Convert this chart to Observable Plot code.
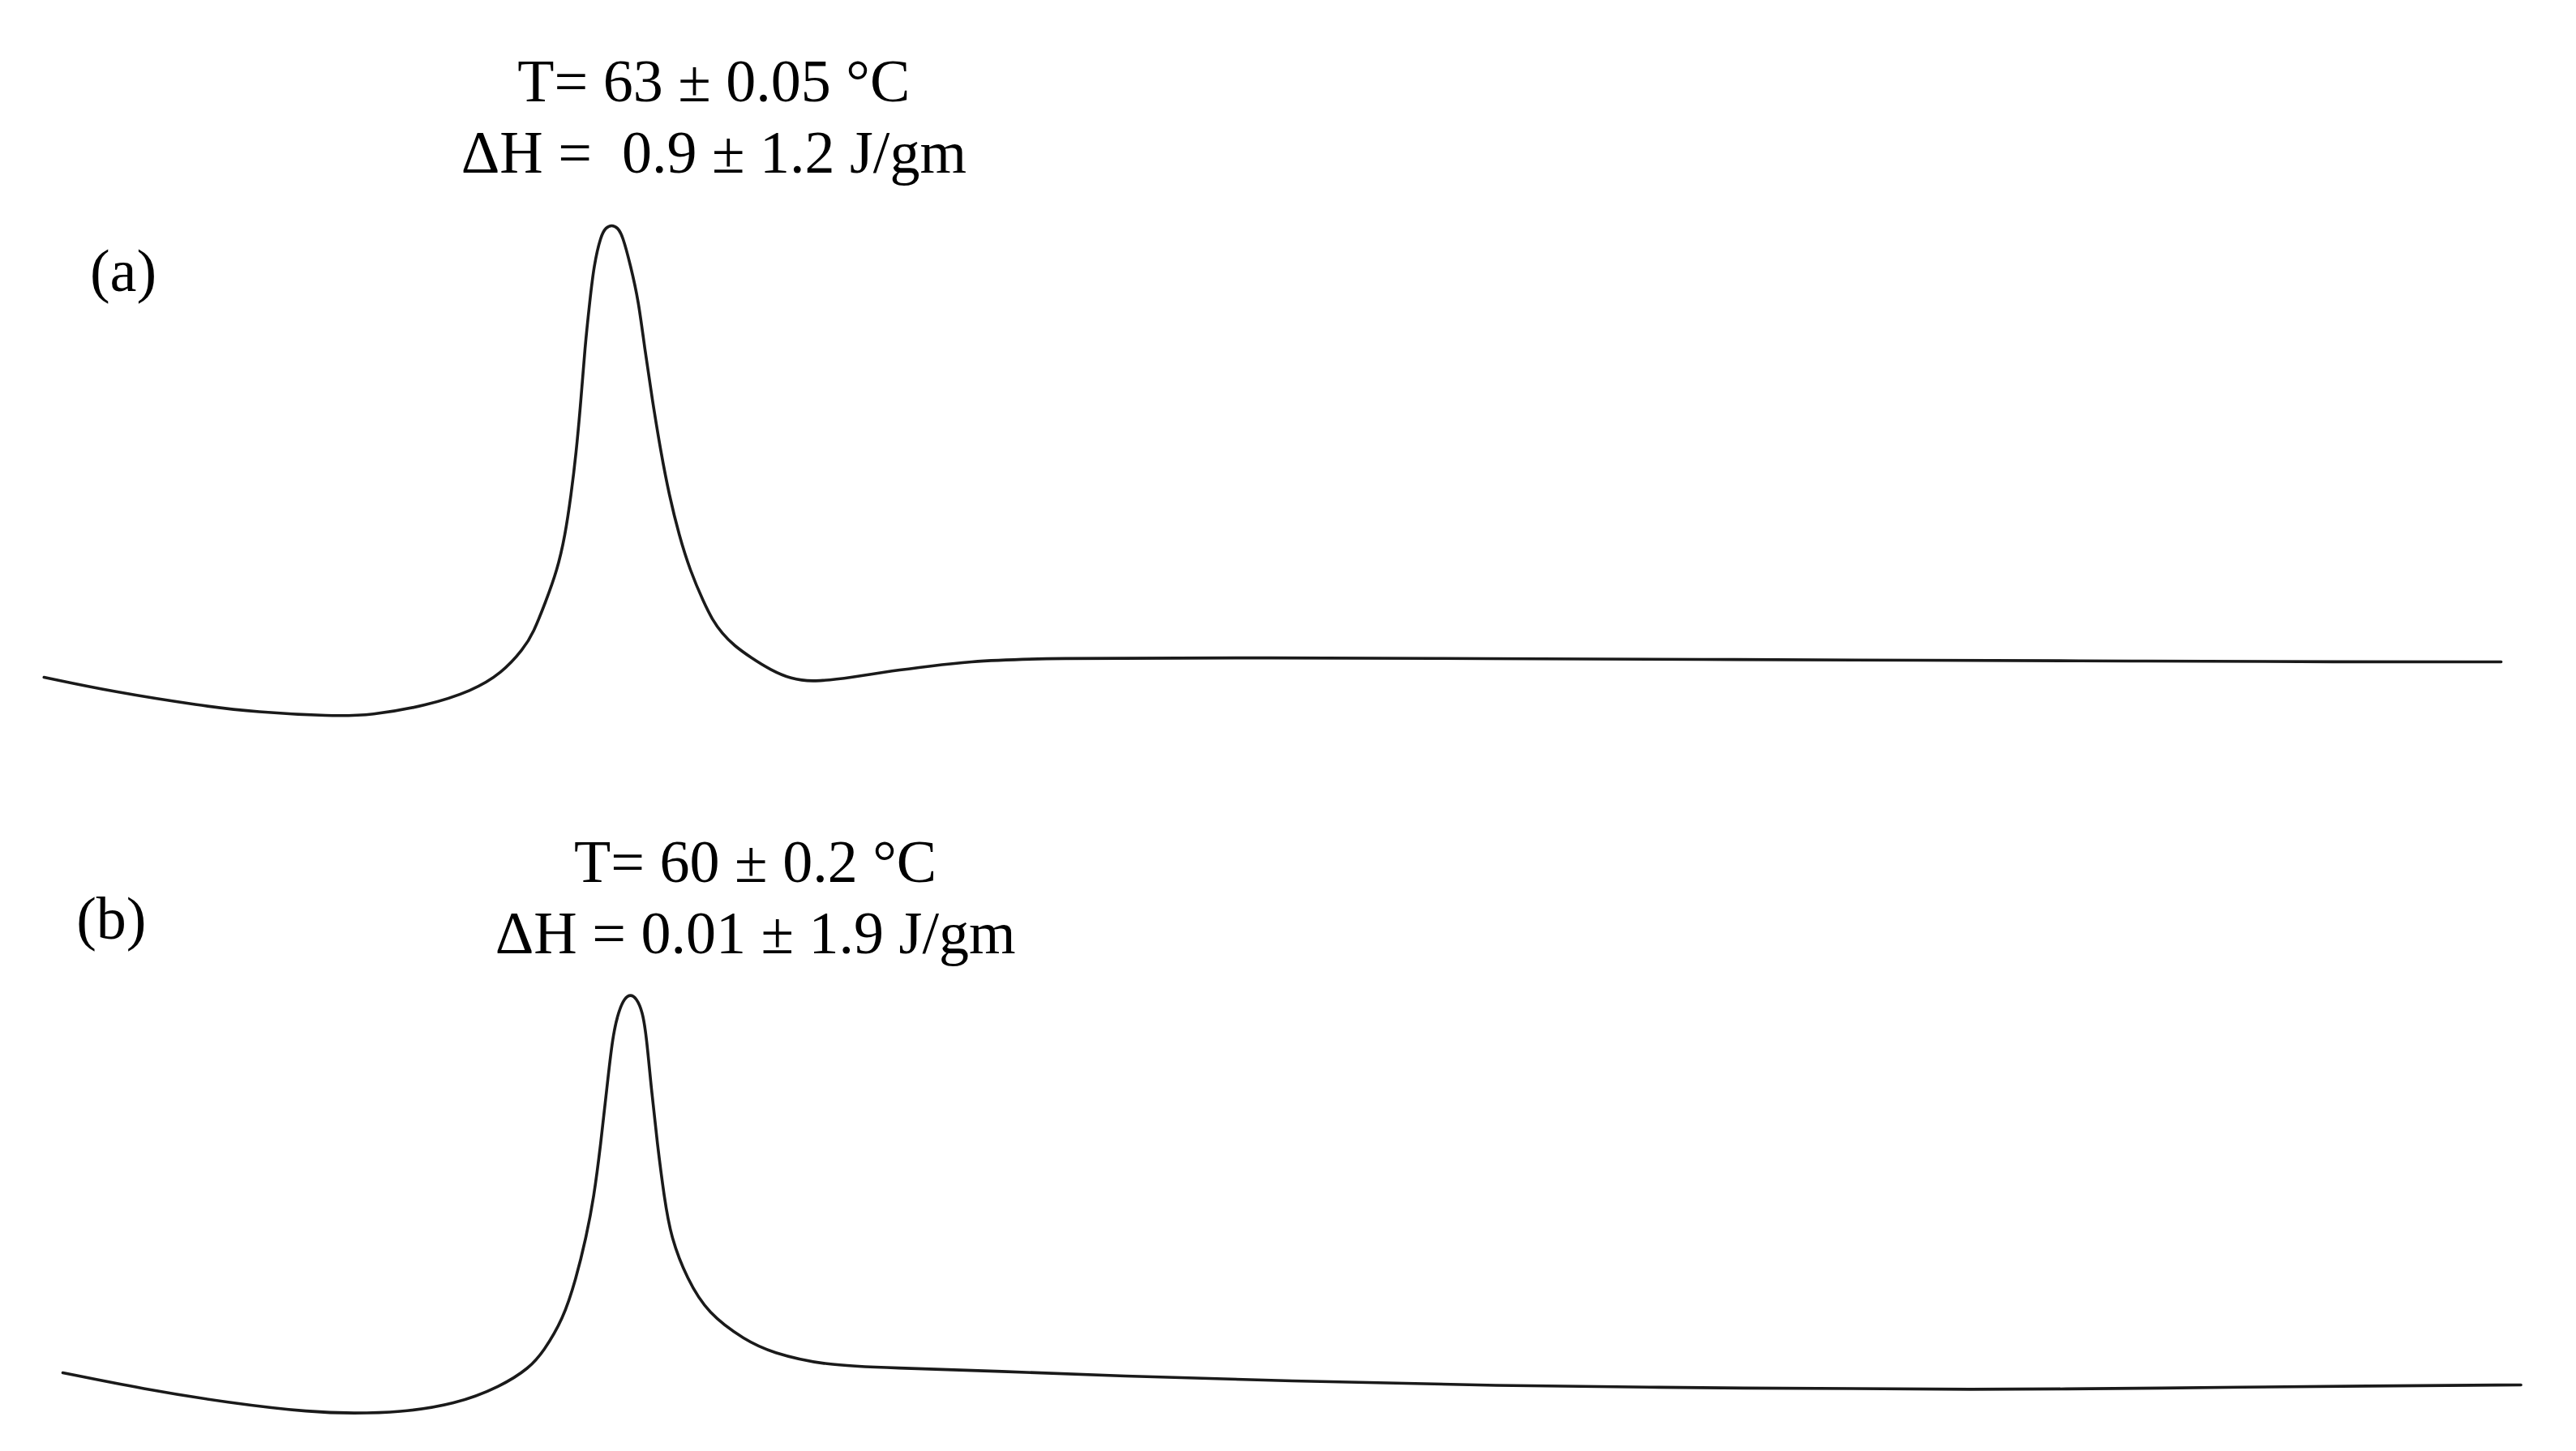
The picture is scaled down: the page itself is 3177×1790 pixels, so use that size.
<!DOCTYPE html>
<html>
<head>
<meta charset="utf-8">
<script src="https://cdn.jsdelivr.net/npm/d3@7"></script>
<script src="https://cdn.jsdelivr.net/npm/@observablehq/plot@0.6"></script>
<style>
  html, body { margin: 0; padding: 0; background: #fff; overflow: hidden; }
  #chart svg { display: block; }
</style>
</head>
<body>
<div id="chart"></div>
<script>
// DSC traces, temperature (°C) vs heat flow (arbitrary units)
const tempA = [32.2, 35.7, 40.1, 42.9, 46.7, 48.7, 51.5, 53.8, 55.3, 56.4, 56.9, 57.5, 58.1, 58.5, 58.8, 59.05, 59.3, 59.5, 59.75, 59.95, 60.3, 60.56, 60.85, 61.14, 61.4, 61.8, 62.2, 62.5, 62.9, 63.35, 63.75, 64.25, 64.8, 65.5, 65.93, 66.42, 67.03, 67.89, 68.87, 69.89, 71.0, 73.0, 75.0, 77.0, 78.7, 82.3, 94.4, 104.9, 115.9, 127.0, 137.5, 148.2, 156.2]
const heatA = [0.60, 0.42, 0.25, 0.17, 0.12, 0.13, 0.25, 0.43, 0.65, 0.95, 1.15, 1.52, 1.92, 2.35, 2.85, 3.35, 4.02, 4.68, 5.25, 5.68, 6.05, 6.15, 6.18, 6.15, 6.05, 5.68, 5.25, 4.68, 4.02, 3.35, 2.85, 2.35, 1.92, 1.52, 1.31, 1.14, 0.99, 0.84, 0.69, 0.58, 0.54, 0.60, 0.68, 0.74, 0.79, 0.84, 0.84, 0.83, 0.82, 0.81, 0.80, 0.79, 0.79]

const tempB = [33.15, 37.2, 41.5, 45.8, 47.8, 50.1, 52.95, 55.25, 56.7, 57.4, 58.4, 59.05, 59.55, 59.95, 60.3, 60.6, 60.9, 61.2, 61.49, 61.8, 62.1, 62.4, 62.6, 62.85, 63.15, 63.5, 63.85, 64.65, 65.7, 67.6, 68.9, 71.6, 75.0, 80.5, 86.3, 95.0, 104.9, 118.3, 129.9, 138.6, 150.2, 157.2]
const heatB = [0.97, 0.77, 0.60, 0.48, 0.47, 0.48, 0.58, 0.80, 1.03, 1.23, 1.63, 2.13, 2.63, 3.13, 3.80, 4.47, 5.13, 5.43, 5.59, 5.64, 5.59, 5.43, 5.13, 4.47, 3.80, 3.13, 2.63, 2.13, 1.70, 1.37, 1.22, 1.06, 1.03, 0.99, 0.93, 0.87, 0.81, 0.78, 0.76, 0.78, 0.81, 0.82]

const panels = ['(a)', '(b)']
const notes = [
  'T= 63 ± 0.05 °C\nΔH = \u00a00.9 ± 1.2 J/gm',
  'T= 60 ± 0.2 °C\nΔH = 0.01 ± 1.9 J/gm'
]
// where the labels sit, in data units (temperature, heat flow)
const noteT = [66.0, 68.1]
const noteH = [6.83, 6.15]
const panelT = [36.2, 35.6]
const panelH = [5.37, 6.33]
const yDomains = [[0, 8.95], [0, 8.95]]

const series = [
  tempA.map((t, i) => ({t, h: heatA[i]})),
  tempB.map((t, i) => ({t, h: heatB[i]}))
]

const font = 'Liberation Serif, Times New Roman, serif'

series.forEach((data, k) => {
  let chart = Plot.plot({
    width: 3177,
    height: 895,
    margin: 0,
    x: {domain: [30, 160], axis: null},
    y: {domain: yDomains[k], axis: null},
    marks: [
      Plot.line(data, {
        x: 't',
        y: 'h',
        curve: 'basis',
        stroke: '#1a1a1a',
        strokeWidth: 3.6
      }),
      Plot.text([notes[k]], {
        x: () => noteT[k],
        y: () => noteH[k],
        text: d => d,
        textAnchor: 'middle',
        lineAnchor: 'bottom',
        lineHeight: 1.18,
        fontSize: 74,
        fontFamily: font,
        fill: '#000'
      }),
      Plot.text([panels[k]], {
        x: () => panelT[k],
        y: () => panelH[k],
        text: d => d,
        textAnchor: 'middle',
        lineAnchor: 'bottom',
        fontSize: 74,
        fontFamily: font,
        fill: '#000'
      })
    ],
    style: {background: '#fff'}
  })
  d3.select('#chart').append(() => chart)
})
</script>
</body>
</html>
